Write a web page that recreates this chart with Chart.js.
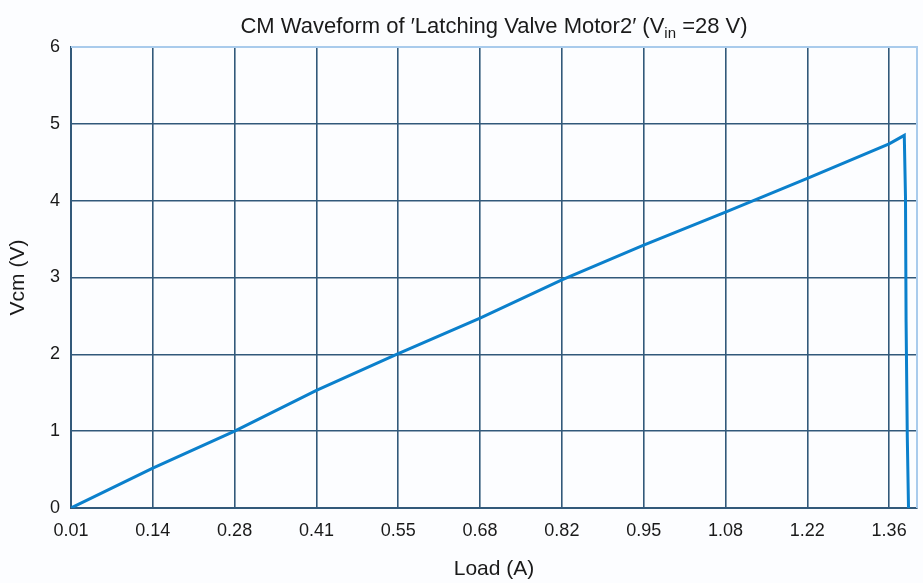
<!DOCTYPE html>
<html lang="en">
<head>
    <meta charset="UTF-8">
    <title>CM Waveform</title>
    <script src="https://cdn.jsdelivr.net/npm/chart.js"></script>
    <style>
        html, body { margin: 0; padding: 0; background: #fcfdff; }
        #wrap { width: 923px; height: 583px; position: relative; }
    </style>
</head>
<body>
    <div id="wrap"><canvas id="cmChart"></canvas></div>

    <script>
        // values
        const loadA = [0.01, 0.145, 0.28, 0.415, 0.55, 0.685, 0.82, 0.955, 1.09, 1.225, 1.36, 1.385, 1.387, 1.388, 1.390, 1.392];
        const vcmV  = [0.00, 0.52, 1.00, 1.53, 2.01, 2.47, 2.97, 3.42, 3.85, 4.29, 4.74, 4.85, 4.05, 2.42, 0.92, 0.00];

        const xTickValues = [0.01, 0.145, 0.28, 0.415, 0.55, 0.685, 0.82, 0.955, 1.09, 1.225, 1.36];
        const xTickLabels = ['0.01', '0.14', '0.28', '0.41', '0.55', '0.68', '0.82', '0.95', '1.08', '1.22', '1.36'];
        const yTickValues = [0, 1, 2, 3, 4, 5, 6];

        const gridColor = '#32597a';
        const frameLight = '#a9cbec';
        const fontFam = '"Liberation Sans", Arial, sans-serif';

        // background, light frame on top/right, and the title with a subscript
        const decor = {
            id: 'decor',
            beforeDraw(chart) {
                const c = chart.ctx;
                c.save();
                c.fillStyle = '#fcfdff';
                c.fillRect(0, 0, chart.width, chart.height);
                c.restore();
            },
            afterDatasetsDraw(chart) {
                const c = chart.ctx;
                const a = chart.chartArea;
                c.save();
                c.strokeStyle = frameLight;
                c.lineWidth = 2;
                c.beginPath();
                c.moveTo(a.left, a.top);
                c.lineTo(a.right, a.top);
                c.lineTo(a.right, a.bottom);
                c.stroke();

                // title
                const big = '22px ' + fontFam;
                const small = '15px ' + fontFam;
                const parts = [
                    { t: 'CM Waveform of \u2032Latching Valve Motor2\u2032 (V', f: big, dy: 0 },
                    { t: 'in', f: small, dy: 7 },
                    { t: ' =28 V)', f: big, dy: 0 }
                ];
                let total = 0;
                parts.forEach(p => { c.font = p.f; p.w = c.measureText(p.t).width; total += p.w; });
                let x = (a.left + a.right) / 2 - total / 2;
                const y = 27;
                c.fillStyle = '#1a1a1a';
                c.textBaseline = 'middle';
                c.textAlign = 'left';
                parts.forEach(p => { c.font = p.f; c.fillText(p.t, x, y + p.dy); x += p.w; });
                c.restore();
            }
        };

        const ctx = document.getElementById('cmChart').getContext('2d');
        new Chart(ctx, {
            type: 'line',
            data: {
                datasets: [{
                    data: loadA.map((v, i) => ({ x: v, y: vcmV[i] })),
                    borderColor: '#0b80cc',
                    borderWidth: 3,
                    pointRadius: 0,
                    tension: 0,
                    fill: false
                }]
            },
            options: {
                responsive: true,
                maintainAspectRatio: false,
                animation: false,
                layout: { padding: { top: 47, right: 6, left: 0, bottom: 0 } },
                plugins: {
                    legend: { display: false },
                    tooltip: { enabled: false }
                },
                scales: {
                    x: {
                        type: 'linear',
                        min: 0.01,
                        max: 1.406,
                        afterBuildTicks: s => { s.ticks = xTickValues.map(v => ({ value: v })); },
                        afterFit: s => { s.height = 75; },
                        ticks: {
                            autoSkip: false,
                            maxRotation: 0,
                            padding: 12,
                            color: '#1a1a1a',
                            font: { size: 18, family: fontFam },
                            callback: (v, i) => xTickLabels[i]
                        },
                        grid: { color: gridColor, lineWidth: 1.6, drawTicks: false },
                        border: { color: gridColor, width: 2 },
                        title: {
                            display: true,
                            text: 'Load (A)',
                            color: '#1a1a1a',
                            font: { size: 21, family: fontFam },
                            padding: { top: 0, bottom: 1 }
                        }
                    },
                    y: {
                        min: 0,
                        max: 6,
                        afterBuildTicks: s => { s.ticks = yTickValues.map(v => ({ value: v })); },
                        afterFit: s => { s.width = 71; },
                        ticks: {
                            padding: 11,
                            color: '#1a1a1a',
                            font: { size: 18, family: fontFam }
                        },
                        grid: {
                            color: c => (c.tick && c.tick.value === 6 ? frameLight : gridColor),
                            lineWidth: 1.6,
                            drawTicks: false
                        },
                        border: { color: gridColor, width: 2 },
                        title: {
                            display: true,
                            text: 'Vcm (V)',
                            color: '#1a1a1a',
                            font: { size: 21, family: fontFam },
                            padding: { top: 6, bottom: 0 }
                        }
                    }
                }
            },
            plugins: [decor]
        });
    </script>
</body>
</html>
